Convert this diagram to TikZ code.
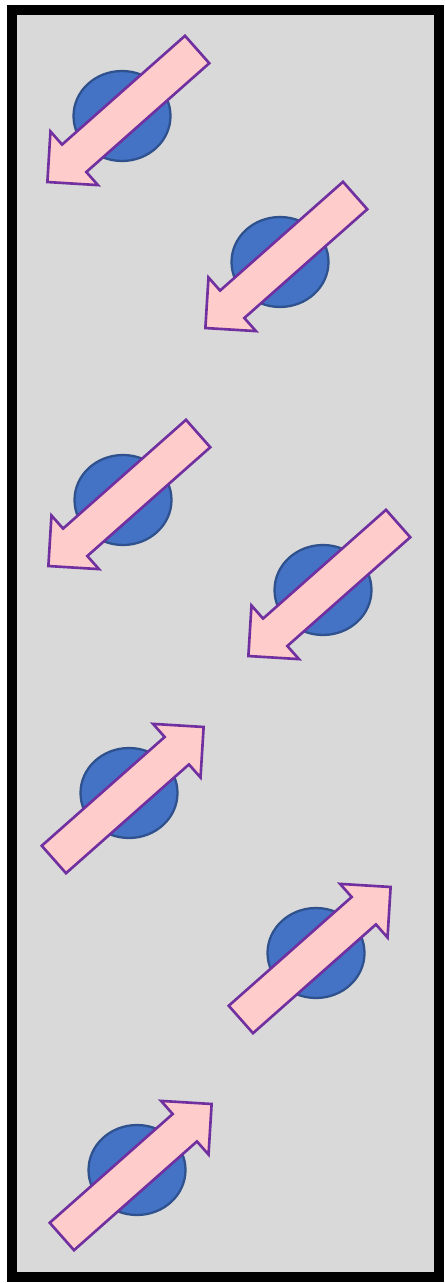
\documentclass[tikz,border=0pt]{standalone}
\usetikzlibrary{shapes.geometric,shapes.arrows}

\definecolor{panelgray}{HTML}{D9D9D9}
\definecolor{spinblue}{HTML}{4472C4}
\definecolor{spinedge}{HTML}{2F528F}
\definecolor{arrowpink}{HTML}{FFCCCC}
\definecolor{arrowedge}{HTML}{7030A0}

\begin{document}
\begin{tikzpicture}[
  x=0.02cm,y=-0.02cm,
  panel/.style={draw=black,line width=6.2pt,fill=panelgray},
  spin/.style={ellipse,draw=spinedge,line width=1.3pt,fill=spinblue,inner sep=0pt,minimum width=1.94cm,minimum height=1.8cm},
  moment/.style={single arrow,draw=arrowedge,line width=1.5pt,fill=arrowpink,inner xsep=0pt,inner ysep=0.34cm,
    minimum height=4cm,single arrow head extend=0.35cm,single arrow tip angle=90,
    shift={(#1:-0.19cm)},rotate=#1},
]
\useasboundingbox (0,0) rectangle (444,1283);
% Frame
\draw[panel] (12,10) rectangle (439,1277);

% Spin 1: down-left
\node[spin] (spin1) at (122,116) {};
\node[moment=221.5] (arr1) at (spin1.center) {};

% Spin 2: down-left
\node[spin] (spin2) at (280,262) {};
\node[moment=221.5] (arr2) at (spin2.center) {};

% Spin 3: down-left
\node[spin] (spin3) at (123,500) {};
\node[moment=221.5] (arr3) at (spin3.center) {};

% Spin 4: down-left
\node[spin] (spin4) at (323,590) {};
\node[moment=221.5] (arr4) at (spin4.center) {};

% Spin 5: up-right
\node[spin] (spin5) at (129,793) {};
\node[moment=41.5] (arr5) at (spin5.center) {};

% Spin 6: up-right
\node[spin] (spin6) at (316,953) {};
\node[moment=41.5] (arr6) at (spin6.center) {};

% Spin 7: up-right
\node[spin] (spin7) at (137,1170) {};
\node[moment=41.5] (arr7) at (spin7.center) {};
\end{tikzpicture}
\end{document}
